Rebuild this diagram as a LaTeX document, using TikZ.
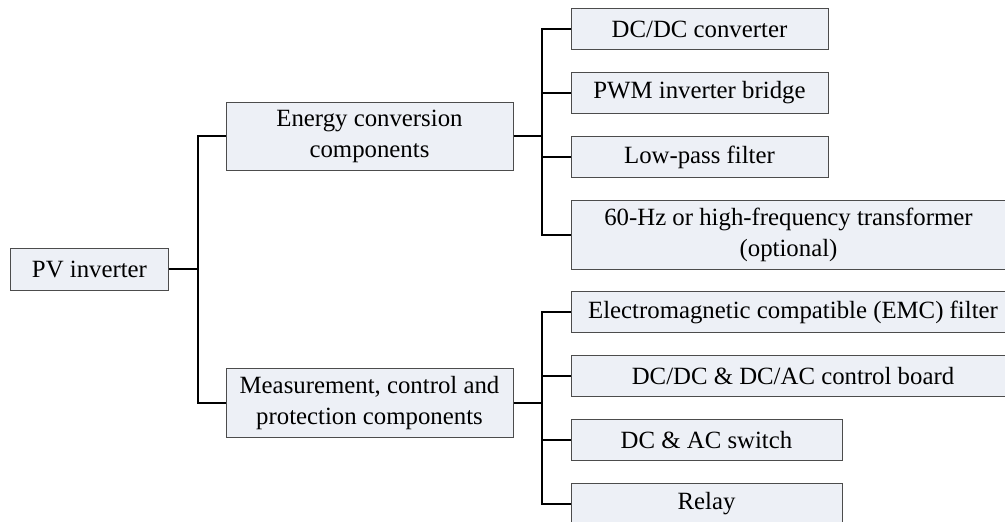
\documentclass[tikz,border=0pt]{standalone}
\usepackage{fontspec}
\setmainfont{Liberation Serif}
\usepackage{tikz}
\usetikzlibrary{positioning,calc}
\definecolor{boxfill}{RGB}{237,240,246}

\begin{document}
\begin{tikzpicture}[
  box/.style={rectangle, draw=black!70, fill=boxfill, line width=0.5pt,
              minimum height=20.5pt, align=center, inner sep=2pt,
              font=\fontsize{12.4}{15.5}\selectfont},
  wide/.style={box, minimum width=128.5pt},
  link/.style={draw=black, line width=1pt},
  node distance=11pt
]
  \useasboundingbox (-44.75pt,-126pt) rectangle (457.75pt,134.5pt);

  % root and the two groups
  \node[box, minimum width=78.5pt, minimum height=21pt] (pv) {PV inverter};
  \node[box, minimum width=143.5pt, minimum height=34pt,
        above right=66.5pt and 28.5pt of pv.east, anchor=west] (energy)
        {Energy conversion\\components};
  \node[box, minimum width=143.5pt, minimum height=34.5pt,
        below right=67pt and 28.5pt of pv.east, anchor=west] (meas)
        {Measurement, control and\\protection components};

  % energy conversion parts
  \node[wide, above right=53.5pt and 28.5pt of energy.east, anchor=west] (dcdc) {DC/DC converter};
  \node[wide, below=of dcdc.south west, anchor=north west] (pwm) {PWM inverter bridge};
  \node[wide, below=of pwm.south west, anchor=north west] (lpf) {Low-pass filter};
  \node[box, minimum width=217.5pt, minimum height=34.5pt,
        below=of lpf.south west, anchor=north west] (trafo)
        {60-Hz or high-frequency transformer\\(optional)};

  % measurement, control and protection parts
  \node[box, minimum width=222pt, above right=45.5pt and 28.5pt of meas.east, anchor=west] (emc)
        {Electromagnetic compatible (EMC) filter};
  \node[box, minimum width=222pt, below=of emc.south west, anchor=north west] (ctrl)
        {DC/DC \& DC/AC control board};
  \node[box, minimum width=135.5pt, below=of ctrl.south west, anchor=north west] (sw) {DC \& AC switch};
  \node[box, minimum width=135.5pt, below=of sw.south west, anchor=north west] (relay) {Relay};

  % tree lines
  \draw[link] (pv.east) -- ++(14.5pt,0) coordinate (j0);
  \draw[link] (energy.west) -| (j0) |- (meas.west);
  \draw[link] (energy.east) -- ++(14pt,0) coordinate (j1);
  \foreach \n in {dcdc,pwm,lpf,trafo}
    \draw[link] (j1) |- (\n.west);
  \draw[link] (meas.east) -- ++(14pt,0) coordinate (j2);
  \foreach \n in {emc,ctrl,sw,relay}
    \draw[link] (j2) |- (\n.west);
\end{tikzpicture}
\end{document}
